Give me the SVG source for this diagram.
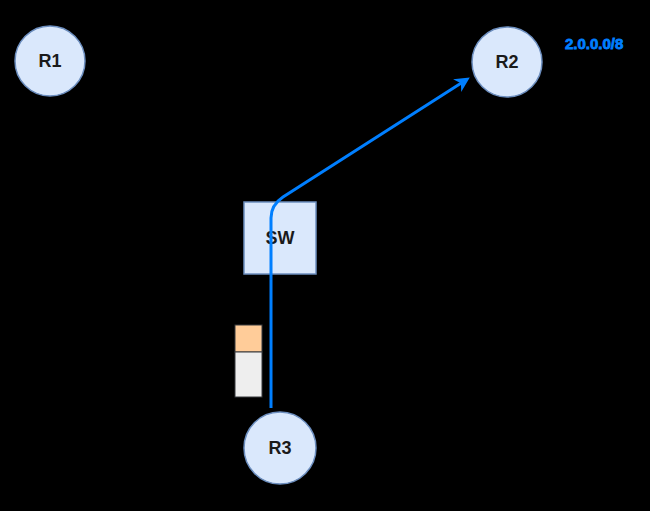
<svg xmlns="http://www.w3.org/2000/svg" width="650" height="511" viewBox="0 0 650 511">
<defs>
<style>
.node{fill:#dae8fc;stroke:#6c8ebf;stroke-width:1.5}
.lbl{font-family:"Liberation Sans",Arial,sans-serif;font-size:18px;font-weight:bold;fill:#1a1a1a;text-anchor:middle}
.link{fill:none;stroke:#007fff;stroke-width:3}
</style>
<marker id="arr" viewBox="0 0 10 10" refX="7" refY="5" markerWidth="5" markerHeight="5" orient="auto" markerUnits="strokeWidth">
<path d="M0,0 L10,5 L0,10 L3,5 Z" fill="#007fff"/>
</marker>
</defs>
<rect x="0" y="0" width="650" height="511" fill="#000"/>
<g id="R1"><circle class="node" cx="50" cy="61" r="35"/><text class="lbl" x="50" y="67">R1</text></g>
<g id="R2"><circle class="node" cx="507" cy="62" r="35"/><text class="lbl" x="507" y="68">R2</text></g>
<g id="R3"><circle class="node" cx="280" cy="448" r="36"/><text class="lbl" x="280" y="454">R3</text></g>
<g id="SW"><rect class="node" x="244" y="202" width="72" height="72"/><text class="lbl" x="280" y="244">SW</text></g>
<g id="stack">
<rect x="235" y="325" width="27" height="27" fill="#ffcc99" stroke="#36393d" stroke-width="1"/>
<rect x="235" y="352" width="27" height="45" fill="#eeeeee" stroke="#36393d" stroke-width="1"/>
</g>
<g id="prefix"><text x="565" y="49" font-family="'Liberation Sans',Arial,sans-serif" font-size="15" font-weight="bold" fill="#007fff" stroke="#007fff" stroke-width="0.8">2.0.0.0/8</text></g>
<g id="connectors">
<path class="link" d="M271,408 L271,218 Q271,205 283,197 L466,80" marker-end="url(#arr)"/>
</g>
</svg>
